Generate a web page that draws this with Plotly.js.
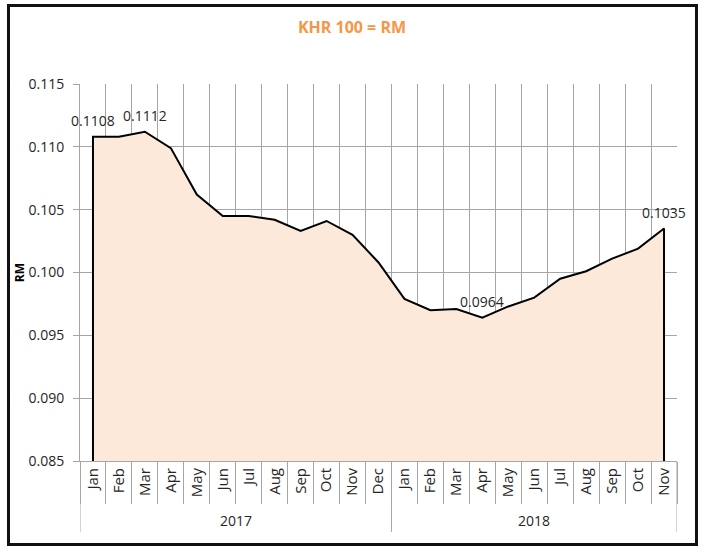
<!DOCTYPE html>
<html>
<head>
<meta charset="utf-8">
<script src="https://cdn.plot.ly/plotly-3.0.1.min.js"></script>
<style>
  html, body { margin: 0; padding: 0; background: #fff; }
  #wrap { position: relative; width: 704px; height: 550px; }
  #chart { width: 704px; height: 550px; }
  #frame { position: absolute; left: 7px; top: 4px; width: 691px; height: 542px; box-sizing: border-box; border: 3px solid #111; pointer-events: none; }
</style>
</head>
<body>
<div id="wrap"><div id="chart"></div><div id="frame"></div></div>
<script>
// ---- data ----
const months = ['Jan','Feb','Mar','Apr','May','Jun','Jul','Aug','Sep','Oct','Nov','Dec',
                'Jan','Feb','Mar','Apr','May','Jun','Jul','Aug','Sep','Oct','Nov'];
const years  = ['2017','2017','2017','2017','2017','2017','2017','2017','2017','2017','2017','2017',
                '2018','2018','2018','2018','2018','2018','2018','2018','2018','2018','2018'];
const rates  = [0.1108, 0.1108, 0.1112, 0.1099, 0.1062, 0.1045, 0.1045, 0.1042, 0.1033, 0.1041, 0.1030, 0.1008,
                0.0979, 0.0970, 0.0971, 0.0964, 0.0973, 0.0980, 0.0995, 0.1001, 0.1011, 0.1019, 0.1035];
const labelledPoints = ['Jan 2017', 'Mar 2017', 'Apr 2018', 'Nov 2018'];
const yearGroups = ['2017', '2018'];
const yMin = 0.085, yMax = 0.115, yStep = 0.005;

// ---- build ----
const cats = months.map((m, i) => m + ' ' + years[i]);
const first = cats[0], last = cats[cats.length - 1];
const xs = [first].concat(cats, [last]);
const ys = [yMin].concat(rates, [yMin]);

const font = 'Century Gothic, "Open Sans", sans-serif';
const txt = '#262626';
const grid = '#a6a6a6';

const trace = {
  type: 'scatter',
  mode: 'lines',
  x: xs, y: ys,
  fill: 'tozeroy',
  fillcolor: '#fde9d9',
  line: { color: '#000', width: 2 },
  hoverinfo: 'skip'
};

const shapes = [];
const annotations = [];

// data labels
cats.forEach((c, i) => {
  if (labelledPoints.includes(c)) {
    annotations.push({
      xref: 'x', yref: 'y', x: c, y: rates[i],
      text: rates[i].toFixed(4), showarrow: false,
      xanchor: 'center', yanchor: 'bottom', yshift: 5,
      font: { family: font, size: 14, color: txt }
    });
  }
});

// year group dividers and labels
const boundaries = [];
yearGroups.forEach((yr) => {
  const idx = years.map((y, i) => y === yr ? i : -1).filter(i => i >= 0);
  const lo = idx[0] - 0.5, hi = idx[idx.length - 1] + 0.5;
  boundaries.push(lo, hi);
  annotations.push({
    xref: 'x', yref: 'paper', x: (lo + hi) / 2, y: -0.159,
    text: yr, showarrow: false, xanchor: 'center', yanchor: 'middle',
    font: { family: font, size: 14, color: txt }
  });
});
[...new Set(boundaries)].forEach(b => {
  shapes.push({ type: 'line', xref: 'x', yref: 'paper', x0: b, x1: b, y0: 0, y1: -0.188,
                line: { color: grid, width: 1 } });
});

const layout = {
  width: 704, height: 550,
  margin: { l: 80, r: 27, t: 84, b: 89 },
  paper_bgcolor: '#fff', plot_bgcolor: '#fff',
  showlegend: false,
  title: {
    text: '<b>KHR 100 = RM</b>',
    x: 0.5, xanchor: 'center', xref: 'container',
    y: 1 - 27 / 550, yanchor: 'middle',
    font: { family: font, size: 16, color: '#f79646' }
  },
  xaxis: {
    type: 'category',
    categoryorder: 'array', categoryarray: cats,
    tickmode: 'array', tickvals: cats, ticktext: months,
    tickson: 'boundaries',
    range: [-0.5, cats.length - 0.5],
    tickangle: -90,
    ticks: 'outside', ticklen: 42, tickcolor: grid, tickwidth: 1,
    showgrid: true, gridcolor: grid, gridwidth: 1,
    showline: true, linecolor: grid, linewidth: 1,
    tickfont: { family: font, size: 15, color: txt },
    zeroline: false, fixedrange: true
  },
  yaxis: {
    range: [yMin, yMax],
    dtick: yStep, tick0: yMin,
    tickformat: '.3f',
    ticks: 'outside', ticklen: 6, tickcolor: grid,
    ticklabelstandoff: 6,
    showgrid: true, gridcolor: grid, gridwidth: 1,
    showline: true, linecolor: grid, linewidth: 1,
    zeroline: false,
    tickfont: { family: font, size: 14, color: txt },
    title: { text: '<b>RM</b>', standoff: 0, font: { family: font, size: 12, color: '#000' } },
    fixedrange: true
  },
  shapes: shapes,
  annotations: annotations
};

Plotly.newPlot('chart', [trace], layout, { displayModeBar: false, staticPlot: true });
</script>
</body>
</html>
